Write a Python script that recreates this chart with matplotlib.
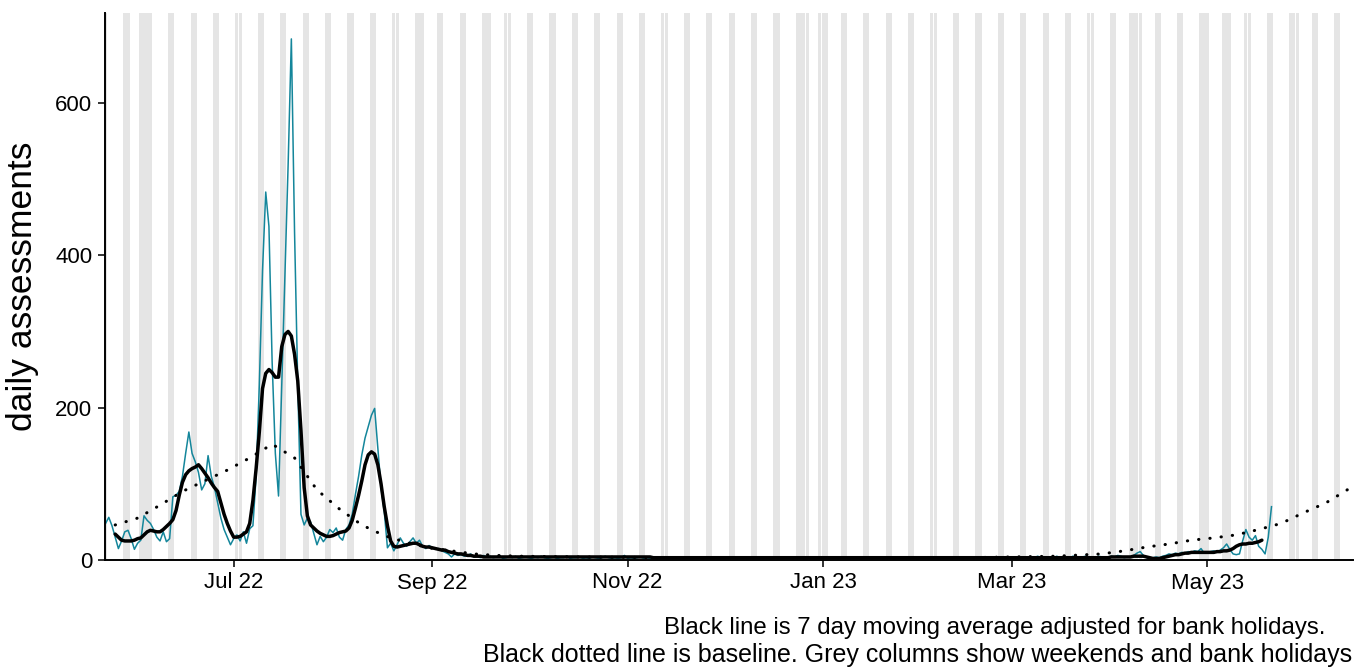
import numpy as np
import pandas as pd
import matplotlib
matplotlib.use("Agg")
import matplotlib.pyplot as plt
import matplotlib.dates as mdates

plt.rcParams['font.family'] = ['Liberation Sans', 'DejaVu Sans']

# ---------------- data ----------------
daily_start = "2022-05-22"
daily = [
    48, 56, 45, 30, 15, 25, 37,
    39, 28, 14, 22, 26, 58, 52,
    48, 40, 30, 25, 37, 24, 28,
    83, 85, 90, 110, 140, 168, 140,
    129, 115, 92, 100, 137, 110, 95,
    75, 55, 40, 30, 20, 28, 33,
    25, 37, 22, 41, 45, 110, 230,
    380, 483, 438, 260, 140, 84, 230,
    380, 520, 684, 430, 230, 60, 46,
    55, 50, 35, 20, 31, 24, 30,
    40, 36, 42, 30, 26, 40, 46,
    60, 86, 110, 138, 160, 175, 190,
    199, 147, 95, 64, 16, 22, 12,
    20, 29, 22, 18, 24, 29, 22,
    26, 18, 15, 19, 16, 14, 15,
    12, 10, 8, 4, 8, 6, 7,
    5, 6, 8, 4, 5, 3, 6,
    4, 5, 3, 4, 6, 2, 3,
    4, 3, 5, 2, 3, 4, 3,
    2, 4, 3, 5, 3, 2, 3,
    4, 2, 3, 3, 5, 2, 3,
    3, 4, 2, 3, 2, 4, 3,
    2, 3, 5, 3, 2, 3, 2,
    3, 6, 2, 3, 2, 3, 4,
    2, 3, 2, 4, 3, 2, 3,
    2, 3, 2, 3, 4, 2, 2,
    3, 2, 4, 2, 3, 2, 3,
    2, 3, 2, 2, 3, 4, 2,
    3, 2, 2, 3, 2, 3, 2,
    2, 3, 2, 3, 2, 2, 3,
    2, 4, 2, 3, 2, 3, 2,
    3, 2, 2, 3, 2, 3, 4,
    2, 3, 2, 3, 2, 4, 3,
    2, 3, 2, 3, 3, 2, 4,
    3, 2, 3, 2, 3, 4, 2,
    3, 2, 3, 2, 4, 3, 2,
    3, 2, 3, 4, 2, 3, 2,
    3, 4, 2, 3, 2, 3, 3,
    2, 3, 4, 2, 3, 2, 3,
    4, 2, 3, 3, 2, 4, 3,
    2, 3, 4, 3, 2, 3, 4,
    3, 2, 4, 3, 5, 3, 2,
    3, 4, 3, 5, 2, 3, 4,
    3, 5, 4, 3, 4, 5, 3,
    4, 3, 5, 4, 3, 4, 5,
    4, 6, 5, 3, 4,
    4, 6, 9, 11, 6, 3, 2,
    3, 4, 3, 5, 6, 8, 7,
    9, 8, 10, 9, 11, 10, 12,
    11, 15, 9, 10, 11, 12, 10,
    13, 16, 21, 14, 8, 7, 8,
    25, 40, 30, 26, 32, 18, 14,
    8, 30, 70,
]

ma_start = "2022-05-25"
moving_avg = [
    # 25 May - 19 Aug 2022
    34, 30, 26, 25, 25, 25, 26,
    28, 29, 33, 37, 39, 38, 37,
    37, 40, 44, 48, 53, 65, 85,
    102, 112, 117, 120, 122, 125, 120,
    114, 108, 101, 95, 90, 75, 60,
    48, 38, 30, 30, 31, 34, 37,
    48, 78, 120, 168, 225, 245, 250,
    246, 240, 240, 280, 296, 300, 294,
    270, 235, 170, 95, 58, 46, 42,
    38, 35, 33, 31, 31, 32, 34,
    36, 37, 38, 42, 52, 68, 85,
    104, 125, 138, 142, 139, 125, 100,
    70, 45, 25, 18, 17, 18, 19,
    20, 21, 22, 22, 20, 18, 17,
    17, 16, 15, 14, 13, 13, 11,
    10, 9, 8, 8, 7, 6, 6,
    5, 5, 5, 4, 4, 4,
    # 20 Sep 2022 - 6 Apr 2023
    4, 4, 4, 4, 4, 4, 4,
    4, 4, 4, 4, 4, 4, 4,
    4, 4, 4, 4, 4, 4, 4,
    4, 4, 4, 4, 4, 4, 4,
    4, 4, 4, 4, 4, 4, 4,
    4, 4, 4, 4, 4, 4, 4,
    4, 4, 4, 4, 4, 4, 4,
    4,
    3, 3, 3, 3, 3, 3, 3,
    3, 3, 3, 3, 3, 3, 3,
    3, 3, 3, 3, 3, 3, 3,
    3, 3, 3, 3, 3, 3, 3,
    3, 3, 3, 3, 3, 3, 3,
    3, 3, 3, 3, 3, 3, 3,
    3, 3, 3, 3, 3, 3, 3,
    3, 3, 3, 3, 3, 3, 3,
    3, 3, 3, 3, 3, 3, 3,
    3, 3, 3, 3, 3, 3, 3,
    3, 3, 3, 3, 3, 3, 3,
    3, 3, 3, 3, 3, 3, 3,
    3, 3, 3, 3, 3, 3, 3,
    3, 3, 3, 3, 3, 3, 3,
    3, 3, 3, 3, 3, 3, 3,
    3, 3, 3, 3, 3, 3, 3,
    3, 3, 3, 3, 3, 3, 3,
    3, 3, 3, 3, 3, 3, 3,
    3, 3, 3, 3, 3, 3, 3,
    3, 3, 3, 3, 3, 3, 3,
    3, 3, 3,
    4, 4, 4, 4, 4, 4,
    # 7 Apr - 18 May 2023
    4, 5, 5, 5, 5, 4, 3,
    2, 2, 2, 3, 4, 5, 6,
    7, 7, 8, 9, 9, 10, 10,
    10, 10, 10, 10, 10, 10, 11,
    11, 12, 12, 13, 15, 18, 20,
    21, 21, 22, 22, 23, 24, 26,
]

baseline_dates = [
    "2022-05-25", "2022-06-01", "2022-06-08", "2022-06-15", "2022-06-22",
    "2022-06-29", "2022-07-06", "2022-07-13", "2022-07-20", "2022-07-27",
    "2022-08-03", "2022-08-10", "2022-08-17", "2022-08-24", "2022-08-31",
    "2022-09-07", "2022-09-14", "2022-09-21", "2022-09-28", "2022-10-15",
    "2022-11-15", "2022-12-15", "2023-01-15", "2023-02-15", "2023-03-01",
    "2023-03-15", "2023-03-29", "2023-04-05", "2023-04-12", "2023-04-19",
    "2023-04-26", "2023-05-03", "2023-05-10", "2023-05-17", "2023-05-24",
    "2023-05-31", "2023-06-07", "2023-06-14",
]
baseline = [
    46, 55, 72, 90, 104,
    118, 134, 152, 134, 92,
    67, 46, 32, 23, 16,
    12, 8, 6, 5, 4,
    3, 3, 3, 3, 4,
    5, 8, 12, 17, 21,
    26, 29, 33, 40, 48,
    62, 75, 93,
]

bank_holidays = [
    "2022-06-02", "2022-06-03", "2022-08-29", "2022-09-19", "2022-12-26",
    "2022-12-27", "2023-01-02", "2023-04-07", "2023-04-10", "2023-05-01",
    "2023-05-08", "2023-05-29",
]
x_first, x_last = "2022-05-21", "2023-06-15"
y_ticks = [0, 200, 400, 600]
y_top = 718
tick_months = ["2022-07-01", "2022-09-01", "2022-11-01", "2023-01-01", "2023-03-01", "2023-05-01"]

# ---------------- figure ----------------
W, H = 1356, 668
fig = plt.figure(figsize=(W / 100, H / 100), dpi=100)
ax = fig.add_axes([105 / W, (H - 560) / H, (1353 - 105) / W, (560 - 13) / H])

d_daily = pd.date_range(daily_start, periods=len(daily), freq="D")
d_ma = pd.date_range(ma_start, periods=len(moving_avg), freq="D")
d_base = pd.to_datetime(baseline_dates)

all_days = pd.date_range(x_first, x_last, freq="D")
grey_days = all_days[(all_days.dayofweek >= 5) | all_days.isin(pd.to_datetime(bank_holidays))]
ax.bar(grey_days, [y_top] * len(grey_days), width=0.95, color="#e5e5e5",
       linewidth=0, zorder=0, align="center")

ax.plot(d_daily, daily, color="#14869b", lw=1.1, zorder=2)
ax.plot(d_ma, moving_avg, color="black", lw=2.5, zorder=3, solid_capstyle="round")
ax.plot(d_base, baseline, color="black", lw=2.2, linestyle=(0, (0.1, 3.6)),
        dash_capstyle="round", zorder=3)

jul1 = mdates.date2num(pd.Timestamp("2022-07-01"))
ax.set_xlim(jul1 - 40.18, jul1 + 349.45)
ax.set_ylim(0, y_top)

ax.set_xticks(pd.to_datetime(tick_months))
ax.xaxis.set_major_formatter(mdates.DateFormatter("%b %y"))
ax.set_yticks(y_ticks)

for s in ["top", "right"]:
    ax.spines[s].set_visible(False)
for s in ["left", "bottom"]:
    ax.spines[s].set_linewidth(1.4)
    ax.spines[s].set_color("black")
ax.tick_params(axis="both", length=5, width=1.4, color="#333333",
               labelsize=16, labelcolor="black", pad=4)

ax.set_ylabel("daily assessments", fontsize=25.5, labelpad=12)

fig.text(1325 / W, 1 - 628 / H, "Black line is 7 day moving average adjusted for bank holidays.",
         ha="right", va="center", fontsize=17.3)
fig.text(1352 / W, 1 - 655 / H, "Black dotted line is baseline. Grey columns show weekends and bank holidays",
         ha="right", va="center", fontsize=18)

fig.savefig("out.png", dpi=100, facecolor="white")
